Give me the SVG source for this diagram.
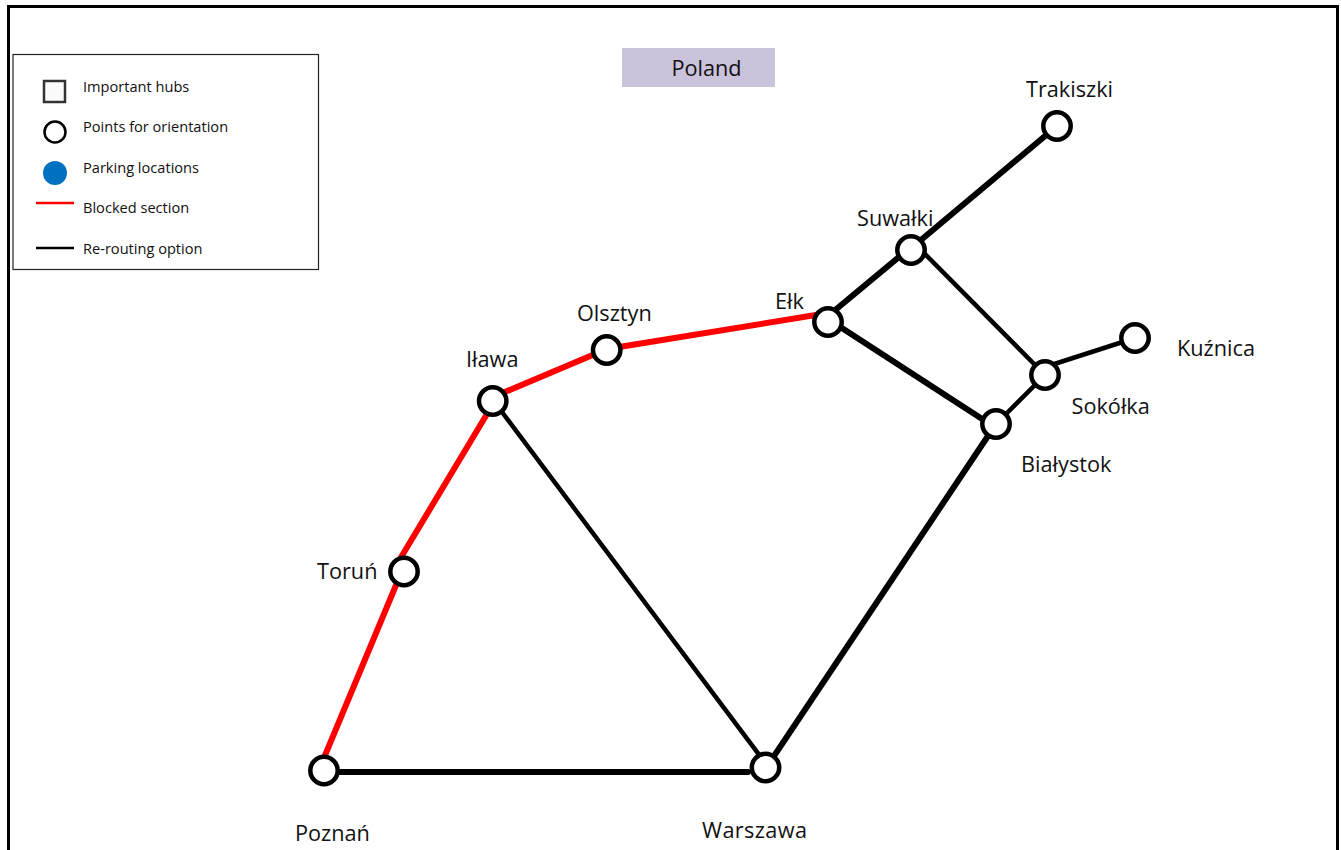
<svg xmlns="http://www.w3.org/2000/svg" width="1341" height="850" viewBox="0 0 1341 850">
<style>
text{font-family:"Open Sans","Noto Sans","Liberation Sans",sans-serif;fill:#111}
.lab{font-size:21.700px}
.leg{font-size:14.600px}
.c{fill:#fff;stroke:#000;stroke-width:4.500}
.r{stroke:#f00;fill:none}
.k{stroke:#000;fill:none}
</style>
<rect width="1341" height="850" fill="#fff"/>
<path d="M8.500 850V6.500H1337.500V850" fill="none" stroke="#000" stroke-width="3"/>
<rect x="622" y="48" width="153" height="39" fill="#cbc2dc"/>
<text class="lab" x="706.500" y="76" text-anchor="middle">Poland</text>
<g id="legend">
<rect x="13" y="54.500" width="305.500" height="215" fill="#fff" stroke="#222" stroke-width="1.200"/>
<rect x="44" y="81" width="21" height="21" fill="#fafafa" stroke="#333" stroke-width="2.500"/>
<circle cx="55" cy="132" r="10.500" fill="#fff" stroke="#000" stroke-width="2.500"/>
<circle cx="55" cy="173" r="12" fill="#0070c0"/>
<line x1="36" y1="203" x2="74" y2="203" stroke="#f00" stroke-width="2.500"/>
<line x1="36" y1="248" x2="74" y2="248" stroke="#000" stroke-width="2.500"/>
<text class="leg" x="83" y="92">Important hubs</text>
<text class="leg" x="83" y="132">Points for orientation</text>
<text class="leg" x="83" y="173">Parking locations</text>
<text class="leg" x="83" y="213">Blocked section</text>
<text class="leg" x="83" y="254">Re-routing option</text>
</g>
<g id="connectors">
<path class="r" stroke-width="6" d="M321 765L399 578"/>
<path class="r" stroke-width="6" d="M400 559L493 404"/>
<path class="r" stroke-width="6" d="M493 397L607 349L828 313"/>
<path class="k" stroke-width="6" stroke-linecap="round" d="M330 772H748"/>
<path class="k" stroke-width="4.500" d="M493 400L766 764"/>
<path class="k" stroke-width="6" d="M766 768L996 424"/>
<path class="k" stroke-width="6" d="M828 319L996 428"/>
<path class="k" stroke-width="6" d="M828 316L911 247"/>
<path class="k" stroke-width="6" d="M915 245L1057 126"/>
<path class="k" stroke-width="4.500" d="M922 251L1045 375"/>
<path class="k" stroke-width="4.500" d="M996 424L1045 375"/>
<path class="k" stroke-width="4.500" d="M1045 367L1135 338"/>
</g>
<g id="poznan"><circle class="c" cx="324" cy="770.500" r="13.700"/><text class="lab" x="295" y="840.500">Poznań</text></g>
<g id="warszawa"><circle class="c" cx="765.500" cy="767.500" r="13.700"/><text class="lab" x="702" y="838" textLength="105">Warszawa</text></g>
<g id="torun"><circle class="c" cx="404" cy="571.500" r="13.700"/><text class="lab" x="317" y="578.500">Toruń</text></g>
<g id="ilawa"><circle class="c" cx="492.700" cy="401" r="13.700"/><text class="lab" x="466" y="367">Iława</text></g>
<g id="olsztyn"><circle class="c" cx="606.700" cy="350" r="13.700"/><text class="lab" x="577" y="321">Olsztyn</text></g>
<g id="elk"><circle class="c" cx="828" cy="322" r="13.700"/><text class="lab" x="775" y="309">Ełk</text></g>
<g id="suwalki"><circle class="c" cx="911" cy="250" r="13.700"/><text class="lab" x="857" y="226">Suwałki</text></g>
<g id="trakiszki"><circle class="c" cx="1057" cy="126" r="13.700"/><text class="lab" x="1026" y="97">Trakiszki</text></g>
<g id="kuznica"><circle class="c" cx="1135" cy="338" r="13.700"/><text class="lab" x="1177" y="356">Kuźnica</text></g>
<g id="sokolka"><circle class="c" cx="1045" cy="375" r="13.700"/><text class="lab" x="1071.500" y="414">Sokółka</text></g>
<g id="bialystok"><circle class="c" cx="996" cy="424" r="13.700"/><text class="lab" x="1021" y="472">Białystok</text></g>
</svg>
